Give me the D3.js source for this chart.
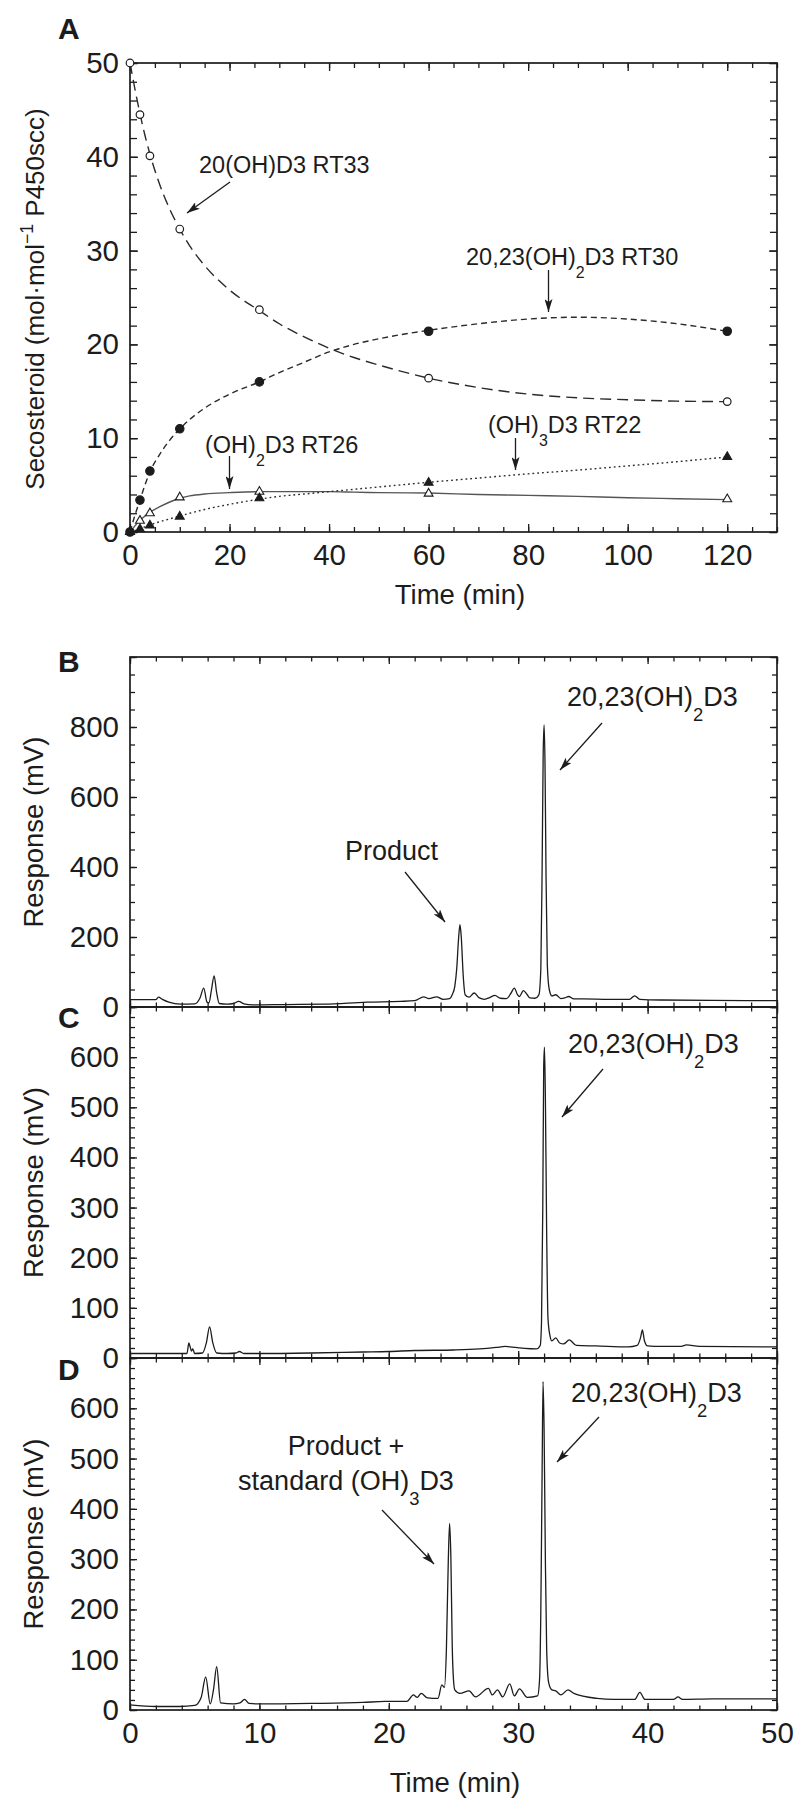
<!DOCTYPE html>
<html>
<head>
<meta charset="utf-8">
<script src="https://cdn.jsdelivr.net/npm/d3@7"></script>
<style>
  body { margin: 0; background: #fff; }
  svg { display: block; font-family: "Liberation Sans", Arial, Helvetica, sans-serif; }
</style>
</head>
<body>
<script>
// ---- panel A: kinetics (mol/mol P450scc) ----
var kinTime     = [0, 2, 4, 10, 26, 60, 120];
var kinOHD3     = [50, 44.5, 40.1, 32.3, 23.7, 16.4, 13.9];   // 20(OH)D3 RT33, open circles
var kinOH2_2023 = [0, 3.4, 6.5, 11.0, 16.0, 21.4, 21.4];      // 20,23(OH)2D3 RT30, filled circles
var kinOH2_26   = [0, 1.2, 2.0, 3.7, 4.3, 4.1, 3.5];          // (OH)2D3 RT26, open triangles
var kinOH3_22   = [0, 0.3, 0.7, 1.65, 3.6, 5.25, 8.0];        // (OH)3D3 RT22, filled triangles

// fitted curves
var fitTime     = [0, 1, 2, 3, 4, 6, 8, 10, 12, 15, 20, 26, 30, 35, 40, 45, 50, 60, 70, 80, 90, 100, 110, 120];
var fitOHD3     = [50, 47.2, 44.6, 42.3, 40.3, 37.0, 34.4, 32.3, 30.5, 28.4, 25.8, 23.6, 22.2, 20.8, 19.6, 18.6, 17.8, 16.4, 15.4, 14.7, 14.3, 14.1, 13.95, 13.9];
var fitOH2_2023 = [0, 1.8, 3.4, 5.0, 6.4, 8.3, 9.8, 11.0, 12.0, 13.2, 14.7, 16.0, 17.0, 18.1, 19.2, 20.0, 20.6, 21.5, 22.2, 22.7, 22.9, 22.7, 22.2, 21.4];
var fitOH2_26   = [0, 0.65, 1.25, 1.7, 2.1, 2.7, 3.2, 3.6, 3.85, 4.05, 4.2, 4.3, 4.3, 4.3, 4.3, 4.25, 4.2, 4.15, 4.0, 3.9, 3.8, 3.65, 3.55, 3.45];
var fitOH3_22   = [0, 0.15, 0.35, 0.55, 0.75, 1.1, 1.4, 1.7, 2.0, 2.4, 2.95, 3.5, 3.8, 4.05, 4.3, 4.55, 4.8, 5.3, 5.75, 6.2, 6.6, 7.05, 7.5, 8.0];

var aXTicks = [0, 20, 40, 60, 80, 100, 120];
var aYTicks = [0, 10, 20, 30, 40, 50];

// ---- panels B-D: HPLC traces (mV vs min) ----
var bTime = [0, 2.0, 2.2, 2.5, 3.0, 3.9, 5.0, 5.4, 5.7, 5.95, 6.1, 6.3, 6.5, 6.7, 6.9, 7.5, 8.0, 8.4, 8.8, 9.5, 12, 15, 18.3, 20.9, 22.0, 22.7, 23.1, 23.7, 24.2, 24.7, 24.9, 25.1, 25.25, 25.4, 25.5, 25.6, 25.75, 25.9, 26.2, 26.6, 27.0, 27.4, 27.8, 28.2, 28.6, 29.1, 29.45, 29.7, 29.95, 30.1, 30.4, 30.7, 30.9, 31.3, 31.6, 31.75, 31.85, 31.93, 32.0, 32.07, 32.15, 32.25, 32.4, 32.6, 32.9, 33.3, 33.6, 33.9, 34.3, 35, 37, 38.6, 39.0, 39.4, 41, 45, 50];
var bResp = [21, 21, 28, 22, 14, 8, 9, 25, 54, 14, 12, 50, 89, 40, 10, 8, 10, 16, 9, 6, 7, 8, 14, 16, 18, 29, 24, 29, 22, 24, 35, 59, 110, 200, 235, 200, 90, 35, 28, 40, 26, 22, 27, 33, 25, 24, 40, 54, 35, 30, 47, 35, 26, 25, 35, 110, 400, 720, 806, 700, 380, 120, 50, 32, 35, 24, 26, 30, 23, 23, 22, 22, 32, 22, 20, 19, 18];

var cTime = [0, 4.4, 4.55, 4.65, 4.75, 4.85, 5.0, 5.6, 5.9, 6.15, 6.4, 6.7, 7.5, 8.2, 8.45, 8.8, 10, 14, 18, 20, 22, 25, 27, 28.3, 29, 29.8, 30.5, 31.4, 31.7, 31.8, 31.9, 31.97, 32.03, 32.1, 32.2, 32.3, 32.45, 32.6, 32.9, 33.2, 33.5, 33.95, 34.5, 36, 38.5, 39.2, 39.45, 39.6, 39.75, 40.0, 41, 42.6, 43, 44, 50];
var cResp = [9, 9, 30, 22, 14, 18, 9, 10, 30, 62, 30, 10, 9, 10, 13, 9, 9, 10, 12, 13, 15, 16, 18, 21, 23, 21, 19, 18, 25, 70, 300, 580, 620, 520, 250, 80, 45, 34, 40, 30, 28, 36, 25, 24, 22, 25, 40, 56, 35, 24, 23, 23, 26, 23, 22];

var dTime = [0, 2, 3.8, 5.0, 5.5, 5.85, 6.2, 6.45, 6.7, 7.0, 8.0, 8.5, 8.85, 9.2, 10, 14, 18, 19.7, 21.4, 21.9, 22.2, 22.5, 23.0, 23.8, 24.1, 24.3, 24.45, 24.6, 24.7, 24.8, 24.9, 25.0, 25.1, 25.5, 26.2, 26.7, 27.7, 28.0, 28.4, 28.8, 29.35, 29.7, 30.1, 30.7, 31.5, 31.65, 31.75, 31.85, 31.92, 32.0, 32.1, 32.2, 32.35, 32.6, 32.9, 33.3, 33.85, 34.3, 36.1, 37.4, 39.0, 39.4, 39.8, 42.0, 42.35, 42.7, 45, 50];
var dResp = [10, 7, 7, 9, 25, 66, 12, 40, 86, 14, 12, 14, 21, 13, 12, 13, 15, 17, 17, 30, 25, 33, 24, 23, 50, 45, 120, 300, 371, 300, 130, 60, 40, 33, 38, 26, 43, 30, 40, 26, 52, 28, 42, 25, 28, 60, 200, 480, 653, 560, 300, 120, 55, 40, 38, 30, 40, 33, 23, 21, 21, 35, 21, 21, 26, 21, 22, 22];

var hplcXTicks = [0, 10, 20, 30, 40, 50];
var bYTicks = [0, 200, 400, 600, 800, 1000];
var cdYTicks = [0, 100, 200, 300, 400, 500, 600, 700];

var ink = "#1c1c1c";
var tickFont = 29.5;

var svg = d3.select("body").append("svg")
    .attr("width", 800)
    .attr("height", 1808);

svg.append("rect").attr("width", 800).attr("height", 1808).attr("fill", "#fff");

svg.append("defs").append("marker")
    .attr("id", "arrow")
    .attr("viewBox", "0 0 13 8")
    .attr("refX", 13).attr("refY", 4)
    .attr("markerWidth", 13).attr("markerHeight", 8)
    .attr("markerUnits", "userSpaceOnUse")
    .attr("orient", "auto")
  .append("path")
    .attr("d", "M0,0 L13,4 L0,8 L3,4 Z")
    .attr("fill", ink);

// inward ticks on all four sides + box
function frame(x, y, o) {
  var g = svg.append("g");
  var x0 = x.range()[0], x1 = x.range()[1], y0 = y.range()[0], y1 = y.range()[1];

  function style(sel) {
    sel.attr("font-family", null).attr("font-size", tickFont);
    sel.select(".domain").remove();
    sel.selectAll("line").attr("stroke", ink).attr("stroke-width", 1.3);
    sel.selectAll("text").attr("font-size", tickFont).attr("fill", ink);
  }

  g.append("g").attr("transform", "translate(0," + y0 + ")")
    .call(d3.axisBottom(x).tickValues(o.xMinor).tickSize(-o.minor).tickFormat("")).call(style);
  g.append("g").attr("transform", "translate(0," + y0 + ")")
    .call(d3.axisBottom(x).tickValues(o.xMajor).tickSize(-o.major).tickPadding(12)
      .tickFormat(function(d) { return o.xLabels ? d : ""; })).call(style);
  g.append("g").attr("transform", "translate(0," + y1 + ")")
    .call(d3.axisTop(x).tickValues(o.xMinor).tickSize(-o.minor).tickFormat("")).call(style);
  g.append("g").attr("transform", "translate(0," + y1 + ")")
    .call(d3.axisTop(x).tickValues(o.xMajor).tickSize(-o.major).tickFormat("")).call(style);

  g.append("g").attr("transform", "translate(" + x0 + ",0)")
    .call(d3.axisLeft(y).tickValues(o.yMinor).tickSize(-o.yminor).tickFormat("")).call(style);
  g.append("g").attr("transform", "translate(" + x0 + ",0)")
    .call(d3.axisLeft(y).tickValues(o.yMajor).tickSize(-o.ymajor).tickPadding(11)
      .tickFormat(function(d) { return d <= o.yLabelMax ? d : ""; })).call(style);
  g.append("g").attr("transform", "translate(" + x1 + ",0)")
    .call(d3.axisRight(y).tickValues(o.yMinor).tickSize(-o.yminor).tickFormat("")).call(style);
  g.append("g").attr("transform", "translate(" + x1 + ",0)")
    .call(d3.axisRight(y).tickValues(o.yMajor).tickSize(-o.ymajor).tickFormat("")).call(style);

  g.append("rect")
    .attr("x", x0).attr("y", y1)
    .attr("width", x1 - x0).attr("height", y0 - y1)
    .attr("fill", "none").attr("stroke", ink).attr("stroke-width", 1.7);
  return g;
}

// text with sub/superscript parts: [[text], [text, "sub"|"sup"], ...]
function label(parent, x, y, parts, size, anchor) {
  var t = parent.append("text")
    .attr("x", x).attr("y", y)
    .attr("font-size", size)
    .attr("text-anchor", anchor || "start")
    .attr("fill", ink);
  var shift = 0;
  parts.forEach(function(p) {
    var want = p[1] === "sub" ? size * 0.55 : p[1] === "sup" ? -size * 0.42 : 0;
    var s = t.append("tspan").text(p[0]).attr("dy", want - shift);
    if (p[1]) s.attr("font-size", size * 0.68);
    shift = want;
  });
  return t;
}

function arrow(x1, y1, x2, y2) {
  svg.append("line")
    .attr("x1", x1).attr("y1", y1).attr("x2", x2).attr("y2", y2)
    .attr("stroke", ink).attr("stroke-width", 1.3)
    .attr("marker-end", "url(#arrow)");
}

function rotLabel(x, y, parts, size) {
  var g = svg.append("g").attr("transform", "translate(" + x + "," + y + ") rotate(-90)");
  label(g, 0, 0, parts, size, "middle");
}

function panelLetter(x, y, s) {
  svg.append("text").attr("x", x).attr("y", y)
    .attr("font-size", 30).attr("font-weight", "bold").attr("fill", ink).text(s);
}

// ================= Panel A =================
var xA = d3.scaleLinear().domain([0, 130]).range([130, 777]);
var yA = d3.scaleLinear().domain([0, 50]).range([532, 63]);

frame(xA, yA, {
  xMajor: aXTicks, xMinor: d3.range(0, 131, 5), xLabels: true,
  yMajor: aYTicks, yMinor: d3.range(0, 51, 2), yLabelMax: 50,
  major: 8, minor: 5, ymajor: 8, yminor: 7
});

var fitLine = d3.line()
    .x(function(i) { return xA(fitTime[i]); })
    .curve(d3.curveMonotoneX);

var idx = d3.range(fitTime.length);
var fits = [
  {v: fitOHD3, dash: "11,6", color: "#2a2a2a"},
  {v: fitOH2_2023, dash: "6,4", color: "#2a2a2a"},
  {v: fitOH2_26, dash: null, color: "#555"},
  {v: fitOH3_22, dash: "1.8,3", color: "#2a2a2a"}
];
fits.forEach(function(f) {
  svg.append("path")
    .datum(idx)
    .attr("d", fitLine.y(function(i) { return yA(f.v[i]); }))
    .attr("fill", "none")
    .attr("stroke", f.color)
    .attr("stroke-width", 1.4)
    .attr("stroke-dasharray", f.dash);
});

var kIdx = d3.range(kinTime.length);
function circles(vals, filled, r) {
  svg.append("g").selectAll("circle")
    .data(kIdx).enter().append("circle")
    .attr("cx", function(i) { return xA(kinTime[i]); })
    .attr("cy", function(i) { return yA(vals[i]); })
    .attr("r", r)
    .attr("fill", filled ? ink : "#fff")
    .attr("stroke", ink).attr("stroke-width", 1.2);
}
function triangles(vals, filled) {
  var sym = d3.symbol().type(d3.symbolTriangle).size(34);
  svg.append("g").selectAll("path")
    .data(kIdx).enter().append("path")
    .attr("d", sym)
    .attr("transform", function(i) { return "translate(" + xA(kinTime[i]) + "," + yA(vals[i]) + ")"; })
    .attr("fill", filled ? ink : "#fff")
    .attr("stroke", ink).attr("stroke-width", 1.1);
}
triangles(kinOH2_26, false);
triangles(kinOH3_22, true);
circles(kinOH2_2023, true, 4.2);
circles(kinOHD3, false, 3.8);

panelLetter(58, 39, "A");
rotLabel(44, 299, [["Secosteroid (mol\u00B7mol"], ["\u22121", "sup"], [" P450scc)"]], 26);
label(svg, 460, 604, [["Time (min)"]], 27.5, "middle");

label(svg, 199, 173, [["20(OH)D3 RT33"]], 23.5);
arrow(230, 182, 187, 213);
label(svg, 466, 265, [["20,23(OH)"], ["2", "sub"], ["D3 RT30"]], 23.5);
arrow(548.5, 270, 548.5, 312);
label(svg, 205, 453, [["(OH)"], ["2", "sub"], ["D3 RT26"]], 23.5);
arrow(229.5, 456, 229.5, 489);
label(svg, 488, 433, [["(OH)"], ["3", "sub"], ["D3 RT22"]], 23.5);
arrow(515.5, 438, 515.5, 470);

// ================= Panels B-D =================
var xH = d3.scaleLinear().domain([0, 50]).range([130, 777]);

var panels = [
  {t: bTime, r: bResp, y: d3.scaleLinear().domain([0, 1000]).range([1007, 657]),
   ticks: bYTicks, minor: d3.range(0, 1001, 50), max: 800, letter: "B", ly: 672, xl: false},
  {t: cTime, r: cResp, y: d3.scaleLinear().domain([0, 700]).range([1358, 1007]),
   ticks: cdYTicks, minor: d3.range(0, 701, 20), max: 600, letter: "C", ly: 1028, xl: false},
  {t: dTime, r: dResp, y: d3.scaleLinear().domain([0, 700]).range([1710, 1358]),
   ticks: cdYTicks, minor: d3.range(0, 701, 20), max: 600, letter: "D", ly: 1380, xl: true}
];

panels.forEach(function(p) {
  var line = d3.line()
      .x(function(i) { return xH(p.t[i]); })
      .y(function(i) { return p.y(p.r[i]); })
      .curve(d3.curveMonotoneX);
  svg.append("path")
    .datum(d3.range(p.t.length))
    .attr("d", line)
    .attr("fill", "none")
    .attr("stroke", ink)
    .attr("stroke-width", 1.3)
    .attr("stroke-linejoin", "round");

  frame(xH, p.y, {
    xMajor: hplcXTicks, xMinor: d3.range(0, 51, 2), xLabels: p.xl,
    yMajor: p.ticks, yMinor: p.minor, yLabelMax: p.max,
    major: 7, minor: 4.5, ymajor: 7, yminor: 5
  });

  var yr = p.y.range();
  rotLabel(42.5, (yr[0] + yr[1]) / 2, [["Response (mV)"]], 27.5);
  panelLetter(58, p.ly, p.letter);
});

label(svg, 455, 1792, [["Time (min)"]], 27.5, "middle");

// B annotations
label(svg, 345, 860, [["Product"]], 27);
arrow(405, 872, 445, 922);
label(svg, 567, 706, [["20,23(OH)"], ["2", "sub"], ["D3"]], 27);
arrow(602, 723, 560, 770);

// C annotations
label(svg, 568, 1053, [["20,23(OH)"], ["2", "sub"], ["D3"]], 27);
arrow(603, 1069, 562, 1117);

// D annotations
label(svg, 571, 1402, [["20,23(OH)"], ["2", "sub"], ["D3"]], 27);
arrow(599, 1417, 557, 1462);
label(svg, 346, 1455, [["Product +"]], 27, "middle");
label(svg, 346, 1490, [["standard (OH)"], ["3", "sub"], ["D3"]], 27, "middle");
arrow(382, 1510, 434, 1564);
</script>
</body>
</html>
